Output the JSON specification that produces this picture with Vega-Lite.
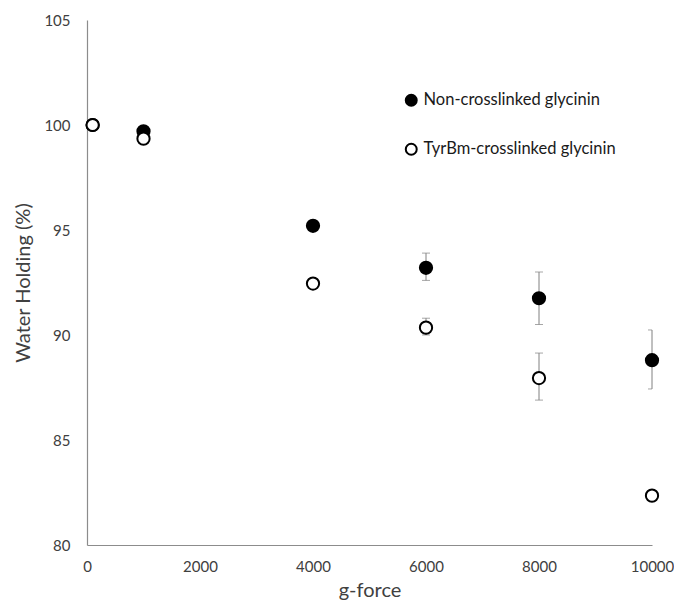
{
  "$schema": "https://vega.github.io/schema/vega-lite/v6.json",
  "width": 565,
  "height": 525,
  "autosize": {"type": "none"},
  "padding": {"left": 87, "top": 20, "right": 22, "bottom": 60},
  "background": "white",
  "config": {
    "view": {"stroke": null},
    "font": "Lato",
    "axis": {"grid": false, "ticks": false, "domainColor": "#8c8c8c", "domainWidth": 1.2, "labelColor": "#404040", "labelFontSize": 15, "titleColor": "#404040", "titleFontSize": 20, "titleFontWeight": "normal"}
  },
  "data": {
    "values": [
      {"g": 100, "series": "Non-crosslinked glycinin", "mean": 100.0, "lo": 100.0, "hi": 100.0},
      {"g": 1000, "series": "Non-crosslinked glycinin", "mean": 99.7, "lo": 99.7, "hi": 99.7},
      {"g": 4000, "series": "Non-crosslinked glycinin", "mean": 95.2, "lo": 95.2, "hi": 95.2},
      {"g": 6000, "series": "Non-crosslinked glycinin", "mean": 93.2, "lo": 92.6, "hi": 93.9},
      {"g": 8000, "series": "Non-crosslinked glycinin", "mean": 91.75, "lo": 90.5, "hi": 93.0},
      {"g": 10000, "series": "Non-crosslinked glycinin", "mean": 88.8, "lo": 87.43, "hi": 90.24},
      {"g": 100, "series": "TyrBm-crosslinked glycinin", "mean": 100.0, "lo": 100.0, "hi": 100.0},
      {"g": 1000, "series": "TyrBm-crosslinked glycinin", "mean": 99.35, "lo": 99.35, "hi": 99.35},
      {"g": 4000, "series": "TyrBm-crosslinked glycinin", "mean": 92.45, "lo": 92.45, "hi": 92.45},
      {"g": 6000, "series": "TyrBm-crosslinked glycinin", "mean": 90.35, "lo": 90.0, "hi": 90.8},
      {"g": 8000, "series": "TyrBm-crosslinked glycinin", "mean": 87.95, "lo": 86.9, "hi": 89.14},
      {"g": 10000, "series": "TyrBm-crosslinked glycinin", "mean": 82.35, "lo": 82.3, "hi": 82.6}
    ]
  },
  "encoding": {
    "x": {"field": "g", "type": "quantitative", "title": "g-force", "scale": {"domain": [0, 10000], "nice": false}, "axis": {"values": [0, 2000, 4000, 6000, 8000, 10000], "format": "d", "labelPadding": 14, "titlePadding": 6, "labelFlush": false}}
  },
  "layer": [
    {
      "mark": {"type": "rule", "color": "#808080", "strokeWidth": 1},
      "encoding": {
        "y": {"field": "lo", "type": "quantitative", "title": "Water Holding (%)", "scale": {"domain": [80, 105], "nice": false}, "axis": {"values": [80, 85, 90, 95, 100, 105], "labelPadding": 17, "titlePadding": 10}},
        "y2": {"field": "hi"}
      }
    },
    {
      "mark": {"type": "tick", "color": "#808080", "thickness": 1, "size": 8, "orient": "horizontal", "clip": true},
      "encoding": {"y": {"field": "lo", "type": "quantitative"}}
    },
    {
      "mark": {"type": "tick", "color": "#808080", "thickness": 1, "size": 8, "orient": "horizontal", "clip": true},
      "encoding": {"y": {"field": "hi", "type": "quantitative"}}
    },
    {
      "mark": {"type": "point", "shape": "circle", "size": 150, "stroke": "black", "strokeWidth": 2, "filled": false, "opacity": 1},
      "encoding": {
        "y": {"field": "mean", "type": "quantitative"},
        "fill": {"field": "series", "type": "nominal", "scale": {"domain": ["Non-crosslinked glycinin", "TyrBm-crosslinked glycinin"], "range": ["black", "white"]},
          "legend": {"title": null, "orient": "none", "legendX": 316, "legendY": 72, "symbolType": "circle", "symbolSize": 120, "symbolStrokeColor": "black", "symbolStrokeWidth": 2, "labelFontSize": 16.5, "labelColor": "#1a1a1a", "labelLimit": 0, "rowPadding": 29, "labelOffset": 4, "symbolOpacity": 1}}
      }
    }
  ]
}
